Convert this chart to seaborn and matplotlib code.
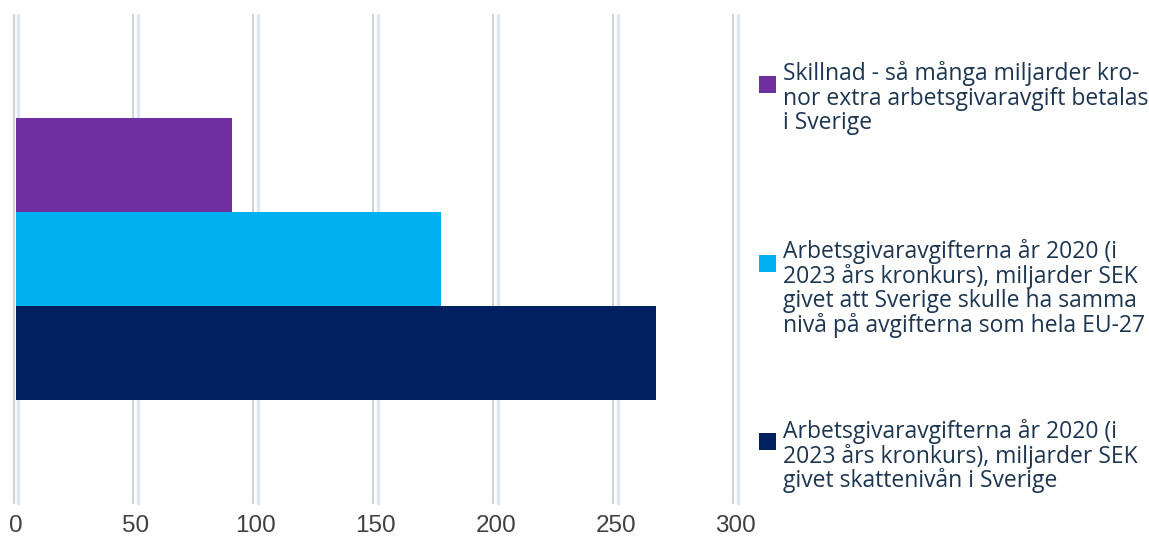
import matplotlib
matplotlib.use("Agg")
import matplotlib.pyplot as plt
import matplotlib.transforms as mtransforms
from matplotlib.patches import Rectangle
import seaborn as sns
import pandas as pd

# Series shown as one group of horizontal bars
series = [
    "Skillnad - så många miljarder kro-\nnor extra arbetsgivaravgift betalas\ni Sverige",
    "Arbetsgivaravgifterna år 2020 (i\n2023 års kronkurs), miljarder SEK\ngivet att Sverige skulle ha samma\nnivå på avgifterna som hela EU-27",
    "Arbetsgivaravgifterna år 2020 (i\n2023 års kronkurs), miljarder SEK\ngivet skattenivån i Sverige",
]
values = [90, 177, 267]
colors = ["#7030a0", "#00b0f0", "#002060"]
xticks = [0, 50, 100, 150, 200, 250, 300]

df = pd.DataFrame({"grupp": [""] * len(values), "serie": series, "varde": values})

sns.set_theme(style="white")
plt.rcParams["font.family"] = ["Liberation Sans", "DejaVu Sans"]

W, H = 1149, 542
fig = plt.figure(figsize=(W / 100, H / 100), dpi=100)
ax = fig.add_axes([16 / W, 1 - 503 / H, (735.5 - 16) / W, (503 - 15) / H])

sns.barplot(data=df, x="varde", y="grupp", hue="serie", hue_order=series,
            palette=colors, orient="h", width=0.578, gap=0, dodge=True,
            saturation=1, linewidth=0, legend=False, ax=ax, zorder=3)

ax.set_xlim(0, 300)
ax.set_ylim(0.5, -0.5)
ax.set_xticks(xticks)
ax.set_xticklabels([str(t) for t in xticks])
ax.set_yticks([])
ax.set_xlabel("")
ax.set_ylabel("")
for s in ax.spines.values():
    s.set_visible(False)
ax.tick_params(axis="x", length=0, pad=9, labelsize=17.5, labelcolor="#404040")

# Double grid lines: a grey rule with a pale blue rule beside it
grey_tr = mtransforms.offset_copy(ax.transData, fig=fig, x=-2.5, y=0, units="dots")
blue_tr = mtransforms.offset_copy(ax.transData, fig=fig, x=2.3, y=0, units="dots")
for t in xticks:
    ax.plot([t, t], [-0.5, 0.5], transform=grey_tr, color="#cdd1d8", lw=1.5, zorder=1, clip_on=False)
    ax.plot([t, t], [-0.5, 0.5], transform=blue_tr, color="#dce7f3", lw=2.4, zorder=1, clip_on=False)

# Legend entries at the right
text_color = "#1c3550"
first_baselines = [80, 258, 438]
square_tops = [76, 255, 433]
for lab, col, base, top in zip(series, colors, first_baselines, square_tops):
    fig.patches.append(Rectangle((759 / W, 1 - (top + 17) / H), 17 / W, 17 / H,
                                 transform=fig.transFigure, facecolor=col,
                                 edgecolor="none", figure=fig))
    lines = lab.split("\n")
    for i, ln in enumerate(lines):
        fig.text(783 / W, 1 - (base + i * 24.6) / H, ln, ha="left", va="baseline",
                 fontsize=16.5, color=text_color, family=["Open Sans", "DejaVu Sans"])

fig.savefig("out.png", dpi=100)
